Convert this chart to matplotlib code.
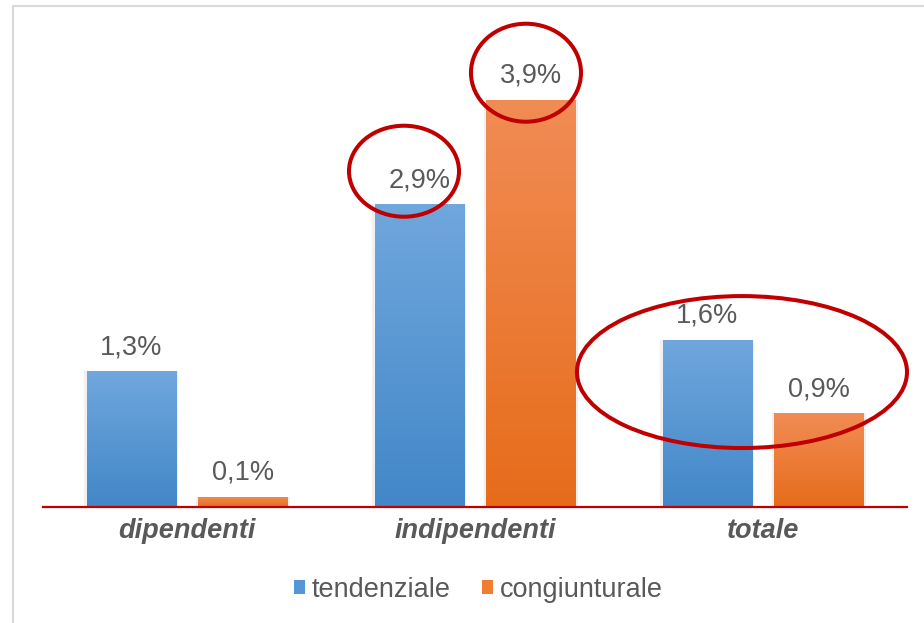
import numpy as np
import matplotlib
matplotlib.use("Agg")
import matplotlib.pyplot as plt
from matplotlib.colors import LinearSegmentedColormap
from matplotlib.patches import Ellipse, Rectangle

categories = ['dipendenti', 'indipendenti', 'totale']
series_names = ['tendenziale', 'congiunturale']
tendenziale = [1.3, 2.9, 1.6]
congiunturale = [0.1, 3.9, 0.9]
labels_tend = ['1,3%', '2,9%', '1,6%']
labels_cong = ['0,1%', '3,9%', '0,9%']

plt.rcParams['font.family'] = ['Liberation Sans', 'DejaVu Sans']
plt.rcParams['font.size'] = 19.5
grey = '#595959'
red = '#c00000'

fig = plt.figure(figsize=(9.24, 6.23), dpi=100)
ax = fig.add_axes([43/924, 116/623, 864/924, 470/623])

# gradient fills, dark at the bottom and light at the top
grad = np.linspace(0, 1, 256).reshape(-1, 1)
styles = [
    ('#5596d6', LinearSegmentedColormap.from_list('blu', ['#4287c8', '#70a7dd'])),
    ('#ef7d32', LinearSegmentedColormap.from_list('ora', ['#e66c1a', '#f18c55'])),
]
width = 0.31
offsets = [-0.193, 0.193]
x = np.arange(len(categories))

handles = []
for vals, labs, off, (mid, cmap) in zip([tendenziale, congiunturale], [labels_tend, labels_cong],
                                        offsets, styles):
    bars = ax.bar(x + off, vals, width, color=mid, zorder=2)
    handles.append(bars[0])
    for b, v, lab in zip(bars, vals, labs):
        x0 = b.get_x()
        # faint shadow on the sides of the bar
        ax.add_patch(Rectangle((x0 - 0.008, 0), width + 0.016, v, color='#000000', alpha=0.06,
                               lw=0, zorder=1))
        im = ax.imshow(grad, extent=[x0, x0 + width, 0, v], origin='lower', aspect='auto',
                       cmap=cmap, zorder=3)
        im.set_clip_path(b)
        ax.annotate(lab, (x0 + width / 2, v), xytext=(0, 12.2), textcoords='offset points',
                    ha='center', va='baseline', color=grey, zorder=4)

ax.set_xlim(-0.5, 2.5)
ax.set_ylim(0, 4.5)
ax.axhline(0, color=red, lw=1.6, zorder=4, clip_on=False)
for s in ax.spines.values():
    s.set_visible(False)
ax.set_yticks([])
ax.set_xticks(x, categories, fontweight='bold', fontstyle='italic', color=grey)
ax.tick_params(axis='x', length=0, pad=8)

# red circles drawn over the chart
circles = [(0.7535, 3.215, 0.382, 0.871), (1.177, 4.158, 0.382, 0.938), (1.927, 1.292, 1.146, 1.455)]
for cx, cy, w, h in circles:
    ax.add_patch(Ellipse((cx, cy), w, h, fill=False, edgecolor=red, lw=2.9, clip_on=False, zorder=5))

fig.legend(handles, series_names, loc='center', bbox_to_anchor=(478.5/924, 1 - 590/623), ncol=2,
           frameon=False, handlelength=0.4, handleheight=0.4, handletextpad=0.27,
           columnspacing=1.15, labelcolor=grey, borderaxespad=0)

fig.add_artist(Rectangle((13/924, -0.05), 1.2, 1 - 6/623 + 0.05, transform=fig.transFigure,
                         fill=False, edgecolor='#d9d9d9', lw=1.5))

fig.savefig('out.png', dpi=100)
